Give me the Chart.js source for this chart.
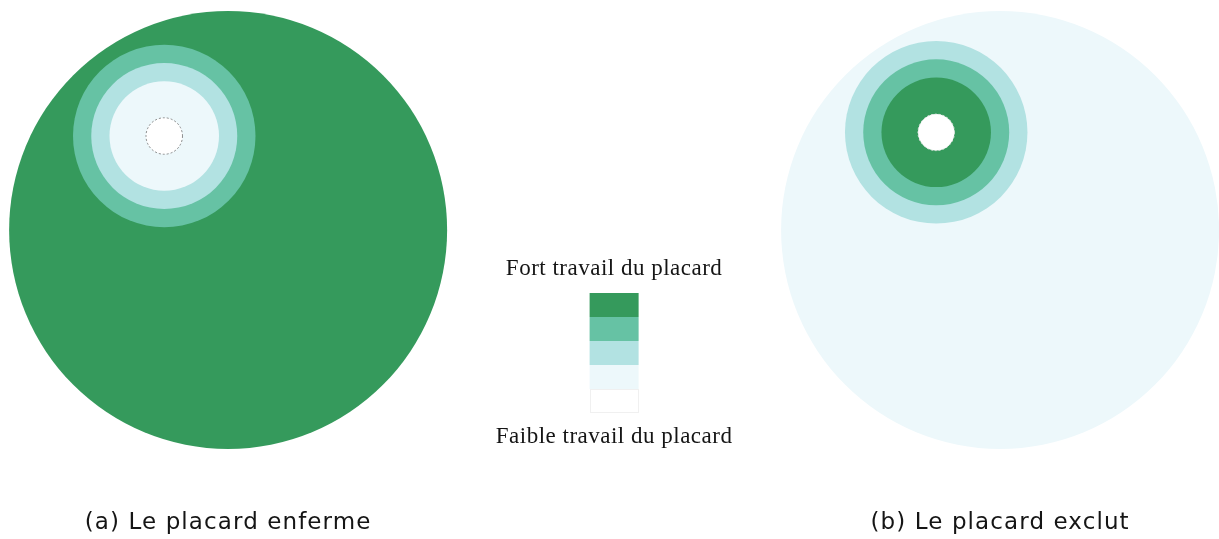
<!DOCTYPE html>
<html>
<head>
<meta charset="utf-8">
<script src="https://cdn.jsdelivr.net/npm/chart.js@4.4.0/dist/chart.umd.min.js"></script>
<style>
  html, body { margin: 0; padding: 0; background: #ffffff; }
  #wrap { width: 1219px; height: 539px; position: relative; }
</style>
</head>
<body>
<div id="wrap"><canvas id="c" width="1219" height="539"></canvas></div>
<script>
// ---- data (units: big circle radius = 12) ----
const panelTitles = ['(a) Le placard enferme', '(b) Le placard exclut'];
const panelCenterX = [0, 42.3];
const panelCenterY = [0, 0];
const ringCenterX = [-3.5, 38.8];
const ringCenterY = [5.15, 5.35];
const layerRadius = [12, 5, 4, 3, 1];          // big disc, outer ring, middle ring, inner ring, hole
const levelsA = [4, 3, 2, 1, 0];                // intensity level per layer, panel (a)
const levelsB = [1, 2, 3, 4, 0];                // intensity level per layer, panel (b)
const palette = ['#ffffff', '#edf8fb', '#b2e2e2', '#66c2a4', '#359a5c']; // weak -> strong
const legendTop = 'Fort travail du placard';
const legendBottom = 'Faible travail du placard';
const legendCenterX = 21.15;

const X_MIN = -12.5, X_MAX = 54.295, Y_MIN = -16.932, Y_MAX = 12.603;

function unitToPx(chart, v) {
  const s = chart.scales && chart.scales.x;
  if (s && s.width > 0) {
    return Math.abs(s.getPixelForValue(v) - s.getPixelForValue(0));
  }
  return v * chart.width / (X_MAX - X_MIN);
}

const datasets = layerRadius.map((r, i) => {
  const isBig = i === 0;
  const isHole = i === layerRadius.length - 1;
  return {
    label: 'layer' + i,
    data: [0, 1].map(p => ({
      x: isBig ? panelCenterX[p] : ringCenterX[p],
      y: isBig ? panelCenterY[p] : ringCenterY[p],
      size: r
    })),
    backgroundColor: [palette[levelsA[i]], palette[levelsB[i]]],
    borderColor: isHole ? ['#8a8a8a', '#e6e6e6'] : 'rgba(0,0,0,0)',
    borderWidth: isHole ? 1 : 0,
    radius: ctx => (ctx.raw && ctx.raw.size) ? unitToPx(ctx.chart, ctx.raw.size) : 0,
    hoverRadius: 0,
    dash: isHole,
    clip: false,
    order: layerRadius.length - i
  };
});

const dashPlugin = {
  id: 'dash',
  beforeDatasetDraw(chart, args) {
    const ds = chart.data.datasets[args.index];
    if (ds.dash) chart.ctx.setLineDash([2, 2]);
  },
  afterDatasetDraw(chart) {
    chart.ctx.setLineDash([]);
  }
};

const decorPlugin = {
  id: 'decor',
  afterDraw(chart) {
    const ctx = chart.ctx;
    const xs = chart.scales.x;
    ctx.save();
    ctx.fillStyle = '#151515';
    ctx.textAlign = 'center';
    ctx.textBaseline = 'alphabetic';
    ctx.font = '23px "DejaVu Sans"';
    ctx.letterSpacing = '1.1px';
    panelTitles.forEach((t, p) => {
      ctx.fillText(t, xs.getPixelForValue(panelCenterX[p]), 529);
    });
    const lx = xs.getPixelForValue(legendCenterX);
    ctx.font = '23px "Liberation Serif"';
    ctx.letterSpacing = '0.5px';
    ctx.fillText(legendTop, lx, 275);
    ctx.fillText(legendBottom, lx, 443);
    ctx.letterSpacing = '0px';
    const bw = 49, bh = 24, top = 293;
    for (let k = 0; k < palette.length; k++) {
      ctx.fillStyle = palette[palette.length - 1 - k];
      ctx.fillRect(lx - bw / 2, top + k * bh, bw, bh);
    }
    ctx.strokeStyle = '#f0f0f0';
    ctx.lineWidth = 1;
    ctx.strokeRect(Math.round(lx - bw / 2) + 0.5, top + 4 * bh + 0.5, bw - 1, bh - 1);
    ctx.restore();
  }
};

new Chart(document.getElementById('c'), {
  type: 'bubble',
  data: { datasets },
  options: {
    responsive: false,
    animation: false,
    events: [],
    layout: { autoPadding: false, padding: 0 },
    scales: {
      x: { type: 'linear', min: X_MIN, max: X_MAX, display: false },
      y: { type: 'linear', min: Y_MIN, max: Y_MAX, display: false }
    },
    plugins: { legend: { display: false }, tooltip: { enabled: false } }
  },
  plugins: [dashPlugin, decorPlugin]
});
</script>
</body>
</html>
